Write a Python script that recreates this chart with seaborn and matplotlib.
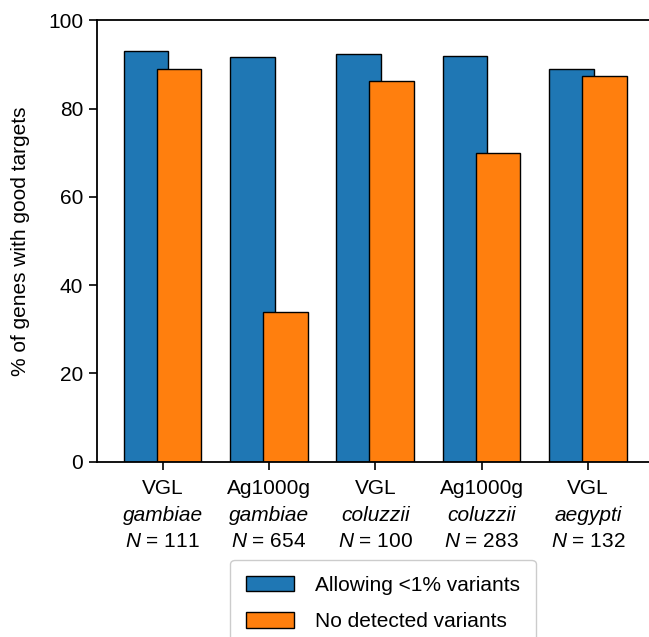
import matplotlib
matplotlib.use("Agg")
import matplotlib.pyplot as plt
import seaborn as sns
import pandas as pd
import numpy as np

# data
datasets = ["VGL", "Ag1000g", "VGL", "Ag1000g", "VGL"]
species = ["gambiae", "gambiae", "coluzzii", "coluzzii", "aegypti"]
n_genes = [111, 654, 100, 283, 132]
allowing_rare = [93.1, 91.6, 92.4, 91.9, 89.0]
no_variants = [88.9, 33.9, 86.2, 69.9, 87.5]
series_names = ["Allowing <1% variants", "No detected variants"]
series_colors = ["#1f77b4", "#ff7f0e"]

sns.set_theme(style="white", rc={"text.color": "black", "axes.labelcolor": "black",
                                 "xtick.color": "black", "ytick.color": "black"})
plt.rcParams["font.family"] = ["Liberation Sans", "DejaVu Sans"]
plt.rcParams["mathtext.fontset"] = "custom"
plt.rcParams["mathtext.rm"] = "Liberation Sans"
plt.rcParams["mathtext.it"] = "Liberation Sans:italic"

idx = np.arange(len(datasets))
offset = 0.155
df = pd.DataFrame({
    "pos": np.concatenate([idx - offset, idx + offset]),
    "pct": allowing_rare + no_variants,
    "series": [series_names[0]] * len(idx) + [series_names[1]] * len(idx),
})

fig = plt.figure(figsize=(6.49, 6.37), dpi=100)
ax = fig.add_axes([0.1495, 0.2752, 0.881, 0.6928])

for name, color in zip(series_names, series_colors):
    sub = df[df["series"] == name]
    sns.barplot(data=sub, x="pos", y="pct", native_scale=True, width=0.42,
                color=color, edgecolor="black", linewidth=1, saturation=1,
                label=name, ax=ax)

ax.set_xlim(-0.617, 4.76)
ax.set_ylim(0, 100)
ax.set_yticks([0, 20, 40, 60, 80, 100])
ax.set_xticks(idx)
ax.set_xticklabels([""] * len(idx))
ax.tick_params(axis="both", labelsize=15, length=6, width=1.2, color="black",
               direction="out", bottom=True, left=True, pad=4)

# three-line category labels: dataset, species (italic), sample size
for i, (d, s, n) in enumerate(zip(datasets, species, n_genes)):
    rows = [(d, "normal", 17.5), (s, "italic", 37.0), (f"$\\it{{N}}$ = {n}", "normal", 55.7)]
    for txt, style, dy in rows:
        ax.annotate(txt, xy=(i, 0), xycoords=("data", "axes fraction"),
                    xytext=(0, -dy), textcoords="offset points",
                    ha="center", va="center_baseline", fontsize=15, style=style)

ax.set_xlabel("")
ax.set_ylabel("% of genes with good targets", fontsize=15, labelpad=13)
for side in ["left", "bottom", "top", "right"]:
    ax.spines[side].set_color("black")
    ax.spines[side].set_linewidth(1.3)

ax.legend(loc="upper center", bbox_to_anchor=(383 / 649, 1 - 560 / 637),
          bbox_transform=fig.transFigure, fontsize=15, handlelength=2.3,
          handleheight=0.75, handletextpad=1.0, labelspacing=0.85,
          borderpad=0.75, borderaxespad=0, framealpha=1)

fig.savefig("out.png", dpi=100)
